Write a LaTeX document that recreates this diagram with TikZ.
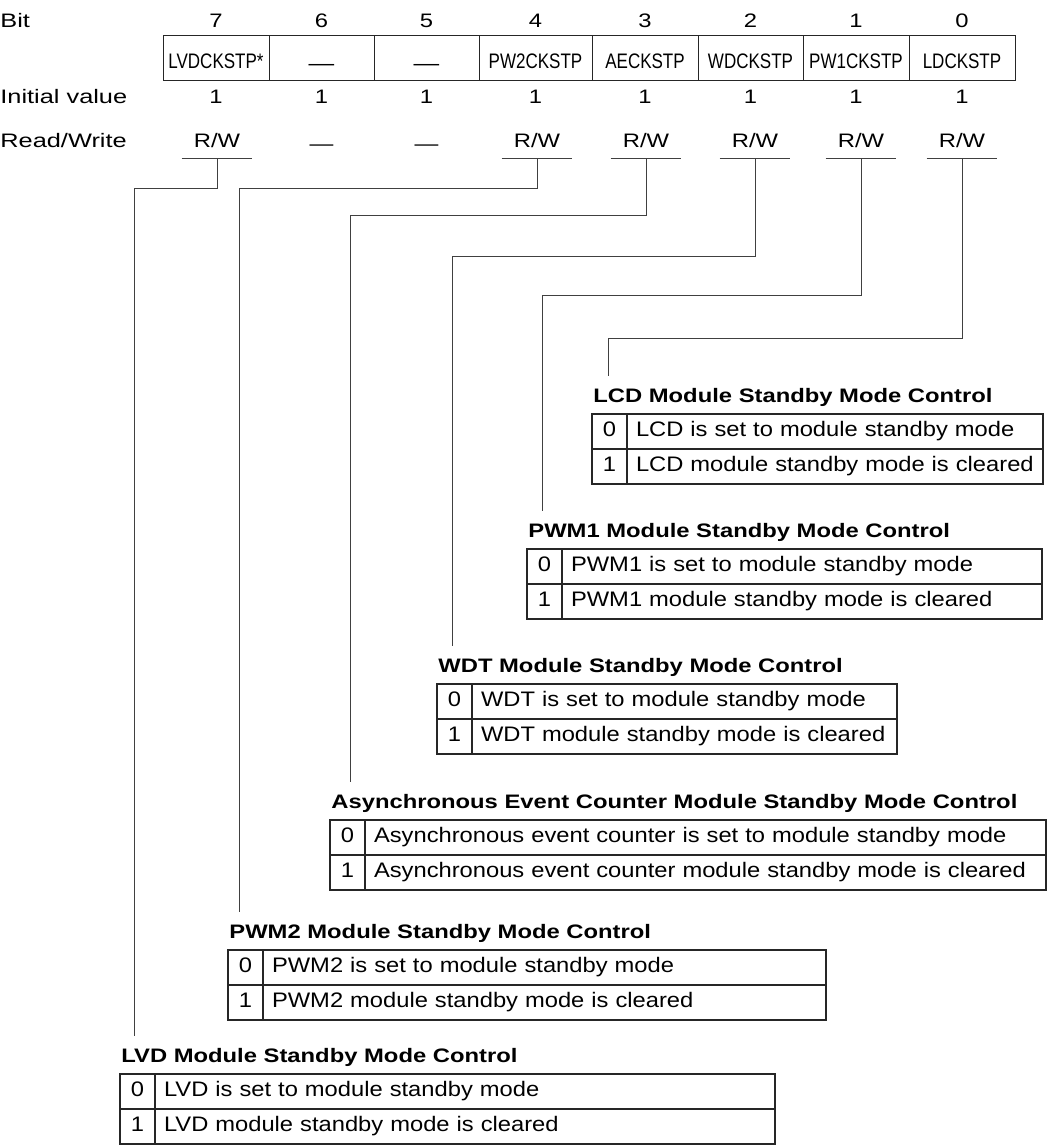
\documentclass[tikz,border=0pt]{standalone}
\usepackage{fontspec}
\setmainfont{Liberation Sans}
\newfontfamily\widefont{Liberation Sans}[FakeStretch=1.22]
\newfontfamily\hdfont{Liberation Sans}[FakeStretch=1.3]
\newfontfamily\rowfont{Liberation Sans}[FakeStretch=1.13]
\newfontfamily\narrowfont{Liberation Sans}[FakeStretch=0.81]

\tikzset{
  hdtext/.style={inner sep=0pt, anchor=base, font=\widefont\fontsize{9.75}{12}\selectfont},
  rowhead/.style={hdtext, anchor=base west, font=\hdfont\fontsize{9.75}{12}\selectfont},
  regcell/.style={draw=black!85, line width=0.5pt, minimum height=22.5pt, inner sep=0pt,
    text height=10pt, text depth=0pt, font=\narrowfont\fontsize{10.5}{12}\selectfont},
  rwtext/.style={hdtext, minimum width=35pt, inner ysep=5pt},
  title/.style={inner sep=0pt, anchor=base west, font=\widefont\bfseries\fontsize{9.75}{12}\selectfont},
  numcell/.style={draw=black!85, line width=0.6pt, outer sep=0pt, anchor=north west,
    minimum width=17.5pt, minimum height=17.5pt, inner sep=0pt,
    text height=8pt, text depth=3.5pt, font=\rowfont\fontsize{10.5}{12}\selectfont},
  desccell/.style={numcell, align=left, inner xsep=4.5pt},
  link/.style={draw=black!75, line width=0.5pt},
}

\begin{document}
\begin{tikzpicture}[x=0.5pt, y=-0.5pt]
  \useasboundingbox (0,0) rectangle (1048,1145);

  % row headings
  \node[rowhead] (hbit) at (0,27.5) {Bit};
  \node[rowhead] (hinit) at (0,104) {Initial value};
  \node[rowhead] (hrw) at (0,148) {Read/Write};

  % register
  \foreach \i/\xa/\xb/\nm in {7/163/269/LVDCKSTP*, 6/269/374/{\raisebox{-1pt}{\widefont —}}, 5/374/479/{\raisebox{-1pt}{\widefont —}},
      4/479/592/PW2CKSTP, 3/592/698/AECKSTP, 2/698/803/WDCKSTP, 1/803/909/PW1CKSTP, 0/909/1015/LDCKSTP}{
    \pgfmathsetmacro\cw{(\xb-\xa)/2}
    \node[regcell, minimum width=\cw pt] (r\i) at ({(\xa+\xb)/2},58.5) {\nm};
    \node[hdtext] (b\i) at ({(\xa+\xb)/2},28) {\i};
    \node[hdtext] (iv\i) at ({(\xa+\xb)/2},104) {1};
  }

  % read/write
  \foreach \i/\x in {7/217, 4/537, 3/646, 2/755, 1/861, 0/962}{
    \node[rwtext] (rw\i) at (\x,148) {R/W};
    \draw[link] (rw\i.south west) -- (rw\i.south east);
  }
  \node[hdtext] (rw6) at ([yshift=-4.5pt]b6 |- hrw) {—};
  \node[hdtext] (rw5) at ([yshift=-4.5pt]b5 |- hrw) {—};

  % bit descriptions
  \foreach \bt/\hy/\vx/\xl/\ty/\xr/\head/\rowname in {
      0/338/608/592/414/1043/LCD/LCD,
      1/295/542/527/549/1042/PWM1/PWM1,
      2/256/452/437/684/897/WDT/WDT,
      3/215/350/330/820/1046/Asynchronous Event Counter/Asynchronous event counter,
      4/188/239/228/950/826/PWM2/PWM2,
      7/188/134/120/1074/775/LVD/LVD}{
    \pgfmathsetmacro\tw{(\xr-\xl-35)/2-9}
    \node[title] (t\bt) at (\xl+1,\ty-12) {\head\ Module Standby Mode Control};
    \node[numcell] (na\bt) at (\xl,\ty) {0};
    \node[desccell, text width=\tw pt] (da\bt) at (na\bt.north east) {\rowname\ is set to module standby mode};
    \node[numcell] (nb\bt) at (na\bt.south west) {1};
    \node[desccell, text width=\tw pt] (db\bt) at (nb\bt.north east) {\rowname\ module standby mode is cleared};
    \coordinate (k\bt) at (\vx,\hy);
    \coordinate (e\bt) at (\vx,\ty-38);
    \draw[link] (rw\bt.south) |- (k\bt) -- (e\bt);
  }
\end{tikzpicture}
\end{document}
